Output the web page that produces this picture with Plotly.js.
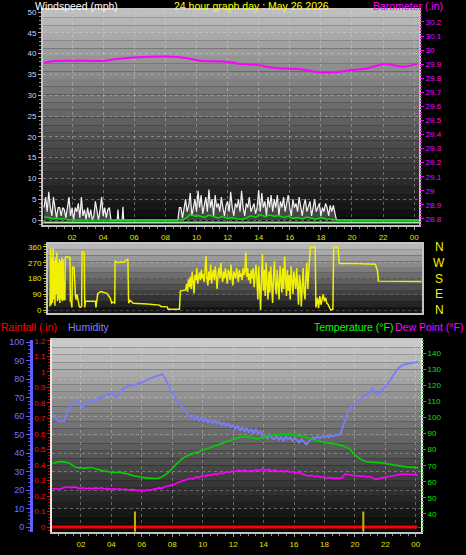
<!DOCTYPE html>
<html><head><meta charset="utf-8">
<script src="https://cdn.plot.ly/plotly-3.0.1.min.js"></script>
<style>html,body{margin:0;padding:0;background:#000;}#chart{width:466px;height:555px;}</style>
</head><body><div id="chart"></div>
<script>
// ---------- tick labels ----------
const hourTicks = [2,4,6,8,10,12,14,16,18,20,22,24];
const hourLabels = ['02','04','06','08','10','12','14','16','18','20','22','00'];
const windTicks = [0,5,10,15,20,25,30,35,40,45,50];
const baroTicks = [28.8,28.9,29.0,29.1,29.2,29.3,29.4,29.5,29.6,29.7,29.8,29.9,30.0,30.1,30.2];
const baroLabels = ['28.8','28.9','29','29.1','29.2','29.3','29.4','29.5','29.6','29.7','29.8','29.9','30','30.1','30.2'];
const dirTicks = [0,90,180,270,360];
const dirLetters = ['N','W','S','E','N'];
const dirLetterDeg = [360,270,180,90,0];
const rainTicks = [0,0.1,0.2,0.3,0.4,0.5,0.6,0.7,0.8,0.9,1.0,1.1,1.2];
const rainLabels = ['0','0.1','0.2','0.3','0.4','0.5','0.6','0.7','0.8','0.9','1','1.1','1.2'];
const humTicks = [0,10,20,30,40,50,60,70,80,90,100];
const tempTicks = [40,50,60,70,80,90,100,110,120,130,140];

// ---------- wind speed (mph) ----------
// gust samples every 0.1 h from 0.2 h
const windGustA = [3,5.5,2,6.8,3,1,5.5,3,0.5,3,3,1,3,2.5,0.5,3,5.5,1,3,0,3,2,4,0.5,5.5,1,2.5,0,3,0.5,2.5,0,1,4.5,2.5,0,2.5,5.5,1,3,0.5,2.5,3,0];
const windIdleHours = [4.6,4.9,4.95,5.0,5.22,5.27,5.32,8.8];
const windIdleVals = [0,0,2.5,0,0,3.2,0,0];
// gust samples every 0.1 h from 8.9 h
const windGustB = [3,3,0.5,3,5,2,3.5,6.5,1,3,
  5,2,7,3,6,1.5,4,5.5,2,7.3,
  3,5,1,6,3,4,2,5.5,3,1,
  3.5,4.5,2,6.8,3,1,4,3,5,2,
  7,3,1,4,3,5.5,2,3,4,1.5,
  3,7.2,2,6.5,3,4.5,1,5.5,3,6,
  2,5,3,6,1,4.5,3,5.5,2,4,
  6,3,1,5,3,4,2,5.5,3,1,
  3.5,5,2,3,4.5,1,3,5,2,3,
  4,1,3,2,4,3,1,3.5,2,3.5,
  2,0];
const windTailHours = [19.1,24.31];
const windTailVals = [0,0];
const windAvgHours = [0.2,0.5,0.8,1.0,1.2,1.4,1.6,2.0,4.5,8.9,9.2,9.4,9.6,9.9,10.2,10.5,10.8,11.1,11.4,11.7,12.0,12.3,12.6,12.9,13.2,13.5,13.8,14.1,14.4,14.7,15.0,15.3,15.6,15.9,16.2,16.5,16.8,17.1,17.4,17.7,18.0,18.3,18.6,19.0,24.3];
const windAvgVals = [0.7,0.6,0.3,0.5,0.2,0.4,0.1,0,0,0,0.2,0.6,1.4,0.9,1.0,0.6,1.2,0.8,0.5,0.9,0.4,0.6,0.3,0.2,0.5,1.0,0.7,1.3,0.8,1.2,0.9,1.1,0.6,0.9,0.4,0.6,0.3,0.7,0.4,0.2,0.6,0.3,0.2,0,0];
const windBaseHours = [0.15,24.31];
const windBaseVals = [-0.6,-0.6];

// ---------- barometer (in) ----------
const baroHours = [0.2,1.0,4.2,4.9,7.0,8.5,9.4,10.2,12.0,12.8,13.9,14.9,16.7,17.9,18.8,19.7,21.0,22.0,22.6,23.3,24.2];
const baroVals = [29.911,29.923,29.925,29.937,29.953,29.953,29.942,29.925,29.918,29.902,29.895,29.875,29.864,29.843,29.843,29.854,29.871,29.900,29.895,29.882,29.902];

// ---------- wind direction (deg) ----------
// samples every 0.04 h from 0.2 h
const dirEarly = [20,355,30,300,40,350,60,280,25,300,90,330,50,270,60,290,40,280,60,300,50];
const dirMidHours = [1.05,1.1,1.17,1.19,1.3,1.45,1.5,1.52,1.58,1.62,1.66,1.72,1.76,1.85,1.9,1.95,2.0,2.1,2.15,2.25,2.28,2.35,2.42,2.45,2.5,2.8,3.0,3.15,3.18,3.22,3.3,3.5,3.7,3.9,4.0,4.1,4.2,4.3,4.4,4.42,4.6,4.8,5.0,5.1,5.25,5.3,5.4,5.6,6.5,7.1,7.3,7.4,7.8,7.86,8.6,8.65,8.9];
const dirMidVals = [290,60,60,300,305,300,300,50,45,15,250,240,245,80,60,90,60,20,15,20,335,330,325,15,50,50,48,50,15,60,95,105,100,95,80,70,40,45,40,280,270,275,272,282,290,40,55,38,35,30,28,20,18,5,5,108,115];
// samples every 0.06 h from 9.0 h
const dirChaos = [115,150,105,175,130,190,120,220,160,95,
  200,170,240,150,190,215,170,230,180,205,
  160,250,310,180,140,220,170,260,150,200,
  230,170,250,190,120,210,240,180,270,200,
  160,220,180,240,200,150,230,210,170,260,
  190,140,220,200,180,240,210,160,230,190,
  210,170,240,200,220,330,190,240,170,210,
  150,230,180,240,130,200,260,180,60,250,
  120,0,190,320,110,230,80,270,150,60,
  220,100,250,170,40,200,280,130,90,230,
  150,60,250,180,100,240,120,305,160,80,
  230,110,200,60,250,140,90,220,170,120,
  240,90,30,200,150,20,180,240,100,60,
  190,270,120,240,300,360,360,360,360,360,
  360];
const dirLateHours = [17.45,17.55,17.62,17.7,17.78,17.85,17.92,18.0,18.08,18.15,18.25,18.35,18.42,18.55,18.6,18.88,18.97,20.0,21.0,21.3,21.38,21.45,21.5,22.5,23.5,24.3];
const dirLateVals = [15,70,10,80,30,60,90,50,70,40,30,10,0,5,360,360,265,265,265,262,240,220,165,165,163,163];

// ---------- humidity (%) every 0.15 h from 0.15 h ----------
const humidity = [61,60,57.5,57,57.5,57,61,64,66,67.5,67,68,66.5,64.5,66,67.5,68,67,69,68.5,
  70,69.5,70.5,71.5,72,71,72.5,71,70.5,72,73.5,75,75.5,76,76.5,76.8,77,77.5,77.8,78,
  78.5,79,79.8,80.5,81,81.5,82,82.5,82.7,81,78.5,75.5,73,71.5,69,67.5,66,64,62.5,61,
  59.5,60.5,58.5,59.5,57.5,59,57,58.5,56.5,58,56,57.5,56,57,55,56.5,54.5,56,54,55,
  53,54.5,52,54,51.5,53.5,51,53,50.5,53,50.5,52,48,49.5,47.5,50.5,48,47.5,49,47,
  48.5,46.5,49,47.5,48.5,46.5,48,47,45.5,47.5,46,44.5,46,47,48.5,47.5,49,48,49,48.5,
  49.5,48.5,49.5,49,50,49.5,50.5,54,58,61.5,64.5,65.5,66.5,67.5,68.5,69.5,70.5,71,72,73,
  75.5,73,71.5,72.5,73.5,74.5,76,78,80,82,84,85.5,86.5,87.5,88,88,88.5,88.5,89,89,
  89.5];
// ---------- temperature (F) every 0.5 h from 0.15 h ----------
const temperature = [71.5,72.5,71.8,69.2,68.4,68.9,67.6,66.5,65.8,65.7,64.6,63.4,62.6,62.2,62.3,65.0,69.8,74.2,76.8,78.4,
  80.1,81.8,83.4,85.2,86.8,88.0,87.6,86.8,88.2,89.0,89.3,89.5,89.0,88.0,86.6,85.2,84.3,83.5,82.6,80.3,
  75.5,72.8,72.2,71.9,71.1,70.3,69.6,69.1,68.8];
// ---------- dew point (F) every 0.2 h from 0.15 h ----------
const dewPoint = [55.5,55.8,55.4,56.2,56.6,56.9,56.4,56.8,56.2,55.8,56.3,55.7,56.1,55.6,56.2,55.8,56.3,55.5,55.9,55.3,
  55.8,55.2,55.7,55.1,55.5,54.9,55.3,54.8,54.5,54.9,54.4,55.0,54.7,55.4,55.8,56.2,56.0,57.1,57.3,58.2,
  58.5,59.4,59.8,60.9,61.3,62.0,61.8,63.0,62.6,63.7,63.3,64.4,63.9,64.9,64.5,65.6,65.1,66.2,65.7,66.8,
  66.3,67.2,66.5,67.3,66.2,67.0,66.4,67.6,66.8,68.2,66.9,67.8,66.5,67.4,66.3,67.0,66.2,66.9,65.9,66.4,
  65.5,65.8,64.6,64.3,63.6,64.0,63.2,63.6,62.8,63.1,62.2,62.7,62.1,62.5,62.0,62.4,64.9,64.5,64.0,63.7,
  63.9,63.4,63.6,63.1,63.3,62.6,61.4,62.0,62.6,62.9,63.1,63.3,63.8,64.2,64.6,64.8,64.7,64.8,64.5,64.4,
  64.2];
// ---------- rainfall (in) ----------
const rainHours = [0.1,24.1];
const rainVals = [0,0];
// sunrise / sunset marks
const sunHours = [5.55,20.55];
const sunMarkRain = [-0.03,0.1];

// ---------- helpers ----------
const W = 466, H = 555;
const px = v => v / W;
const py = v => 1 - v / H;
const times = (t0, step, arr) => arr.map((_, i) => +(t0 + i * step).toFixed(3));
const FONT = 'Liberation Sans, Arial, sans-serif';
const tf = (c, s) => ({family: FONT, size: s || 8, color: c});

const windHours = [...times(0.2, 0.1, windGustA), ...windIdleHours, ...times(8.9, 0.1, windGustB), ...windTailHours];
const windVals = [...windGustA, ...windIdleVals, ...windGustB, ...windTailVals];
const dirHours = [...times(0.2, 0.04, dirEarly), ...dirMidHours, ...times(9.0, 0.06, dirChaos), ...dirLateHours];
const dirVals = [...dirEarly, ...dirMidVals, ...dirChaos, ...dirLateVals];
const sunX = [], sunY = [];
sunHours.forEach(h => { sunX.push(h, h, null); sunY.push(sunMarkRain[0], sunMarkRain[1], null); });

const traces = [
  {x: windHours, y: windVals, xaxis: 'x', yaxis: 'y', mode: 'lines', fill: 'tozeroy', fillcolor: 'rgba(200,200,200,0.3)',
    line: {color: '#f2f2f2', width: 1.2}, hoverinfo: 'skip'},
  {x: windBaseHours, y: windBaseVals, xaxis: 'x', yaxis: 'y', mode: 'lines', line: {color: '#a8e4a8', width: 2}, hoverinfo: 'skip'},
  {x: windAvgHours, y: windAvgVals, xaxis: 'x', yaxis: 'y', mode: 'lines', line: {color: '#00e000', width: 1.5}, hoverinfo: 'skip'},
  {x: baroHours, y: baroVals, xaxis: 'x', yaxis: 'y2', mode: 'lines', line: {color: '#ff00ff', width: 2, shape: 'spline'}, hoverinfo: 'skip'},
  {x: dirHours, y: dirVals, xaxis: 'x2', yaxis: 'y3', mode: 'lines', line: {color: '#f0f000', width: 1.5}, hoverinfo: 'skip'},
  {x: rainHours, y: rainVals, xaxis: 'x3', yaxis: 'y4', mode: 'lines', line: {color: '#ff0000', width: 3}, hoverinfo: 'skip'},
  {x: sunX, y: sunY, xaxis: 'x3', yaxis: 'y4', mode: 'lines', line: {color: '#c8b400', width: 2}, hoverinfo: 'skip'},
  {x: times(0.15, 0.15, humidity), y: humidity, xaxis: 'x3', yaxis: 'y5', mode: 'lines', line: {color: '#7b7bff', width: 1.8}, hoverinfo: 'skip'},
  {x: times(0.15, 0.5, temperature), y: temperature, xaxis: 'x3', yaxis: 'y6', mode: 'lines', line: {color: '#00d400', width: 1.6, shape: 'spline'}, hoverinfo: 'skip'},
  {x: times(0.15, 0.2, dewPoint), y: dewPoint, xaxis: 'x3', yaxis: 'y6', mode: 'lines', line: {color: '#ff00ff', width: 1.6}, hoverinfo: 'skip'}
];

// gradient background bands
const shapes = [];
function bands(xr, yr, top, bottom, n) {
  for (let k = 0; k < n; k++) {
    const g = Math.round(bottom + (top - bottom) * (k + 0.5) / n);
    shapes.push({type: 'rect', xref: xr + ' domain', yref: yr + ' domain', x0: 0, x1: 1, y0: k / n, y1: (k + 1) / n,
      fillcolor: `rgb(${g},${g},${g})`, line: {width: 0}, layer: 'below'});
  }
}
bands('x', 'y', 192, 6, 28);
bands('x2', 'y3', 190, 14, 12);
bands('x3', 'y4', 205, 4, 26);

const grid = {showgrid: true, gridcolor: 'rgba(215,215,215,0.4)', griddash: 'dot', gridwidth: 1};
const frame = {showline: true, linecolor: '#c4c4c4', linewidth: 2, mirror: true, zeroline: false, fixedrange: true};

const annotations = [
  {text: 'Windspeed (mph)', x: px(34), y: py(6), xanchor: 'left', c: '#ffffff'},
  {text: '24 hour graph day : May 26 2026', x: px(251), y: py(6), xanchor: 'center', c: '#ffff00'},
  {text: 'Barometer (.in)', x: px(372), y: py(6), xanchor: 'left', c: '#ff00ff'},
  {text: 'Rainfall (.in)', x: px(0), y: py(327), xanchor: 'left', c: '#ff0000'},
  {text: 'Humidity', x: px(67), y: py(327), xanchor: 'left', c: '#8080ff'},
  {text: 'Temperature (°F)', x: px(394), y: py(327), xanchor: 'right', c: '#00ff00'},
  {text: 'Dew Point (°F)', x: px(464), y: py(327), xanchor: 'right', c: '#ff00ff'}
].map(a => ({text: a.text, x: a.x, y: a.y, xref: 'paper', yref: 'paper', xanchor: a.xanchor, yanchor: 'middle',
  showarrow: false, borderpad: 0, font: {family: FONT, size: 10.5, color: a.c}}));
dirLetters.forEach((l, i) => annotations.push({text: l, x: px(439), y: dirLetterDeg[i], xref: 'paper', yref: 'y3',
  xanchor: 'center', yanchor: 'middle', showarrow: false, font: {family: FONT, size: 12, color: '#f0f000'}}));

const layout = {
  width: W, height: H, margin: {l: 0, r: 0, t: 0, b: 0}, paper_bgcolor: '#000', plot_bgcolor: '#000',
  showlegend: false, shapes, annotations,
  xaxis: Object.assign({domain: [px(43), px(419)], anchor: 'y', range: [0.13, 24.31], tickmode: 'array', tickvals: hourTicks, ticktext: hourLabels,
    tickfont: tf('#e0e000'), ticks: 'outside', ticklen: 3, tickcolor: '#a0a0a0',
    minor: {tickmode: 'linear', tick0: 0, dtick: 0.5, ticks: 'outside', ticklen: 2, tickcolor: '#8a8a8a', showgrid: false}}, grid, frame),
  yaxis: Object.assign({domain: [py(225), py(10)], anchor: 'x', range: [-1.2, 50.5], tickmode: 'array', tickvals: windTicks,
    tickfont: tf('#c8d8f4'), ticks: 'outside', ticklen: 3, tickcolor: '#b0b0b0',
    minor: {tickmode: 'linear', tick0: 0, dtick: 1, ticks: 'outside', ticklen: 2, tickcolor: '#909090', showgrid: false}}, grid, frame),
  yaxis2: {overlaying: 'y', side: 'right', anchor: 'x', range: [28.757, 30.285], tickmode: 'array', tickvals: baroTicks, ticktext: baroLabels,
    tickfont: tf('#ff00ff'), ticks: 'outside', ticklen: 4, tickcolor: '#ff00ff', showgrid: false, zeroline: false, showline: false, fixedrange: true,
    minor: {tickmode: 'linear', tick0: 28.8, dtick: 0.02, ticks: 'outside', ticklen: 2, tickcolor: '#d000d0', showgrid: false}},
  xaxis2: Object.assign({domain: [px(48), px(422)], anchor: 'y3', range: [0.07, 24.33], showticklabels: false, ticks: '', showgrid: false}, frame),
  yaxis3: Object.assign({domain: [py(313), py(244)], anchor: 'x2', range: [-17, 377], tickmode: 'array', tickvals: dirTicks,
    tickfont: tf('#e8e800'), ticks: 'outside', ticklen: 3, tickcolor: '#e0e000',
    minor: {tickmode: 'linear', tick0: 0, dtick: 15, ticks: 'outside', ticklen: 2, tickcolor: '#b0b000', showgrid: false},
    showgrid: true, gridcolor: 'rgba(215,215,215,0.25)', griddash: 'dot'}, frame),
  xaxis3: Object.assign({domain: [px(52), px(421)], anchor: 'y4', range: [0.1, 24.34], tickmode: 'array', tickvals: hourTicks, ticktext: hourLabels,
    tickfont: tf('#e0e000'), ticks: 'outside', ticklen: 3, tickcolor: '#a0a0a0',
    minor: {tickmode: 'linear', tick0: 0, dtick: 0.5, ticks: 'outside', ticklen: 2, tickcolor: '#8a8a8a', showgrid: false}}, grid, frame),
  yaxis4: Object.assign({domain: [py(532), py(340)], anchor: 'x3', range: [-0.032, 1.206], tickmode: 'array', tickvals: rainTicks, ticktext: rainLabels,
    tickfont: tf('#ff1010'), ticks: 'outside', ticklen: 3, tickcolor: '#ff0000',
    minor: {tickmode: 'linear', tick0: 0, dtick: 0.02, ticks: 'outside', ticklen: 2, tickcolor: '#d00000', showgrid: false},
    showgrid: false}, frame, {linecolor: '#e6e6e6'}),
  yaxis5: {overlaying: 'y4', anchor: 'free', position: px(31), side: 'left', range: [-2.7, 101.1], tickmode: 'array', tickvals: humTicks,
    tickfont: tf('#7070ff', 9), ticks: 'outside', ticklen: 4, tickcolor: '#6060ff', showline: true, linecolor: '#6060ff', linewidth: 3,
    showgrid: true, gridcolor: 'rgba(215,215,215,0.35)', griddash: 'dot', zeroline: false, fixedrange: true,
    minor: {tickmode: 'linear', tick0: 0, dtick: 2, ticks: 'outside', ticklen: 2, tickcolor: '#5050e0', showgrid: false}},
  yaxis6: {overlaying: 'y4', side: 'right', anchor: 'x3', range: [28.8, 148.1], tickmode: 'array', tickvals: tempTicks,
    tickfont: tf('#00e000'), ticks: 'outside', ticklen: 4, tickcolor: '#00d000', showline: false, showgrid: false, zeroline: false, fixedrange: true,
    minor: {tickmode: 'linear', tick0: 30, dtick: 2, ticks: 'outside', ticklen: 2, tickcolor: '#00b000', showgrid: false}}
};

Plotly.newPlot('chart', traces, layout, {staticPlot: true, displayModeBar: false});
</script></body></html>
